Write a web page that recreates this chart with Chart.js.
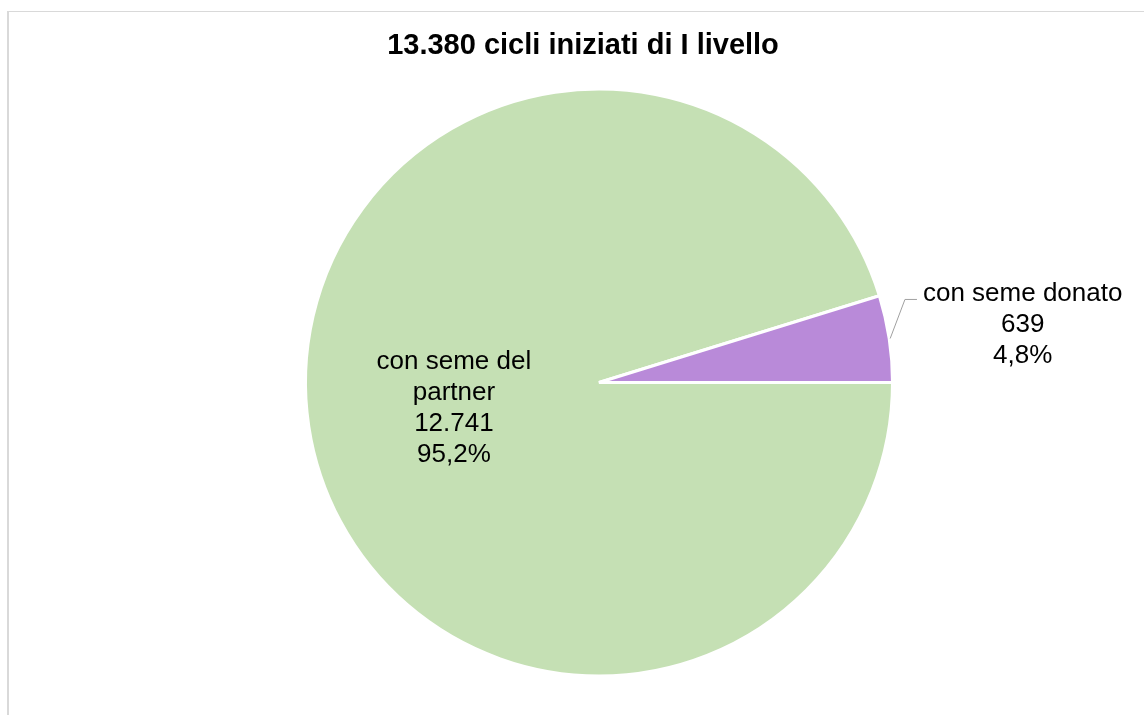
<!DOCTYPE html>
<html>
<head>
<meta charset="utf-8">
<script src="https://cdn.jsdelivr.net/npm/chart.js@4.4.0/dist/chart.umd.min.js"></script>
<style>
  body { margin: 0; background: #fff; }
  #frame { position: absolute; left: 7px; top: 11px; width: 1200px; height: 800px;
           border-left: 2px solid #d9d9d9; border-top: 1px solid #d9d9d9; }
  #wrap { position: absolute; left: 0; top: 0; width: 1144px; height: 715px; }
</style>
</head>
<body>
<div id="frame"></div>
<div id="wrap"><canvas id="pie"></canvas></div>
<script>
const categories = ["con seme del partner", "con seme donato"];
const labelLines = [["con seme del", "partner"], ["con seme donato"]];
const cycles = [12741, 639];
const sliceColors = ["#c5e0b4", "#b98ad9"];
const titleText = "13.380 cicli iniziati di I livello";

const total = cycles.reduce((a, b) => a + b, 0);
const fmtNum = n => n.toLocaleString("it-IT");
const fmtPct = n => (n * 100).toFixed(1).replace(".", ",") + "%";

const sliceLabels = {
    id: "sliceLabels",
    afterDraw(chart) {
        const ctx = chart.ctx;
        const arcs = chart.getDatasetMeta(0).data;
        ctx.save();
        ctx.fillStyle = "#000";
        ctx.textAlign = "center";
        ctx.textBaseline = "middle";
        // titolo
        ctx.font = "bold 29px 'Liberation Sans', Arial, sans-serif";
        ctx.fillText(titleText, 583, 46);

        ctx.font = "26px 'Liberation Sans', Arial, sans-serif";
        const lineH = 31;
        arcs.forEach((arc, i) => {
            const p = arc.getProps(["x", "y", "startAngle", "endAngle", "outerRadius"], true);
            const mid = (p.startAngle + p.endAngle) / 2;
            const lines = labelLines[i].concat([fmtNum(cycles[i]), fmtPct(cycles[i] / total)]);
            const outside = cycles[i] / total < 0.1;
            const f = outside ? 1.46 : 0.5;
            const cx = p.x + Math.cos(mid) * p.outerRadius * f;
            const cy = p.y + Math.sin(mid) * p.outerRadius * f + (outside ? 6 : 4);
            const y0 = cy - (lines.length - 1) * lineH / 2;
            lines.forEach((t, k) => ctx.fillText(t, cx, y0 + k * lineH));
            if (outside) {
                const w = ctx.measureText(lines[0]).width;
                const sx = p.x + Math.cos(mid) * (p.outerRadius + 1);
                const sy = p.y + Math.sin(mid) * (p.outerRadius + 1);
                const ex = cx - w / 2 - 6;
                ctx.strokeStyle = "#a0a0a0";
                ctx.lineWidth = 1;
                ctx.beginPath();
                ctx.moveTo(sx, sy);
                ctx.lineTo(ex - 12, y0 + 6);
                ctx.lineTo(ex, y0 + 6);
                ctx.stroke();
            }
        });
        ctx.restore();
    }
};

new Chart(document.getElementById("pie"), {
    type: "pie",
    data: {
        labels: categories,
        datasets: [{
            data: cycles,
            backgroundColor: sliceColors,
            borderColor: "#ffffff",
            borderWidth: 3
        }]
    },
    options: {
        responsive: true,
        maintainAspectRatio: false,
        animation: false,
        rotation: 90,
        layout: { padding: { top: 87, bottom: 37, left: 304, right: 250 } },
        plugins: {
            legend: { display: false },
            tooltip: { enabled: false },
            title: { display: false }
        }
    },
    plugins: [sliceLabels]
});
</script>
</body>
</html>
